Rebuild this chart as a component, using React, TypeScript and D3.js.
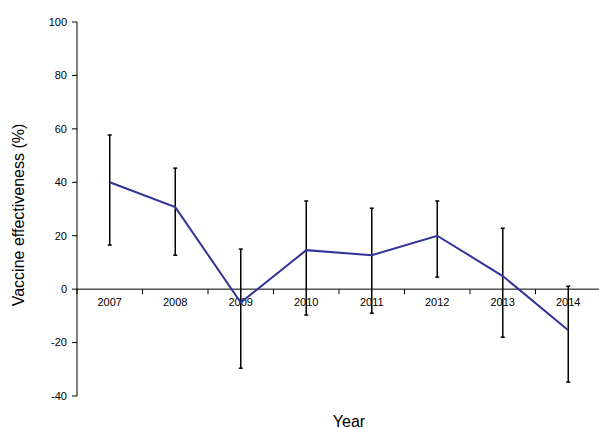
import React from 'react';
import * as d3 from 'd3';

const years = ['2007', '2008', '2009', '2010', '2011', '2012', '2013', '2014'];
const ve = [40, 30.7, -5, 14.6, 12.7, 20, 4.9, -15.4];
const upper = [57.7, 45.3, 15, 33, 30.3, 33, 22.8, 1.1];
const lower = [16.5, 12.7, -29.6, -9.7, -9, 4.5, -18, -34.8];
const yTicks = [-40, -20, 0, 20, 40, 60, 80, 100];

const W = 599;
const H = 429;
const left = 77;

const App = () => {
  const x = d3.scaleBand().domain(years).range([77, 601]);
  const y = d3.scaleLinear().domain([-40, 100]).range([396, 22]);
  const cx = (i: number) => (x(years[i]) as number) + x.bandwidth() / 2;
  const line = d3
    .line<number>()
    .x((_, i) => cx(i))
    .y((d) => y(d));
  const font = 'Arial, Liberation Sans, sans-serif';
  return (
    <svg
      width={W}
      height={H}
      style={{ position: 'absolute', left: 0, top: 0, background: '#fff' }}
      fontFamily={font}
    >
      <line x1={left} x2={left} y1={y(100)} y2={y(-40)} stroke="#000" />
      {yTicks.map((t) => (
        <g key={t}>
          <line x1={left - 5} x2={left} y1={y(t)} y2={y(t)} stroke="#000" />
          <text x={left - 10} y={y(t)} dy="0.35em" textAnchor="end" fontSize={11}>
            {t}
          </text>
        </g>
      ))}
      <line x1={left} x2={601} y1={y(0)} y2={y(0)} stroke="#000" />
      {years.map((yr, i) => (
        <g key={yr}>
          <line x1={x(yr)} x2={x(yr)} y1={y(0)} y2={y(0) + 5} stroke="#000" />
          <text x={cx(i)} y={y(0) + 17} textAnchor="middle" fontSize={11}>
            {yr}
          </text>
        </g>
      ))}
      {years.map((yr, i) => (
        <g key={'e' + yr} stroke="#000" strokeWidth={1.5}>
          <line x1={cx(i)} x2={cx(i)} y1={y(upper[i])} y2={y(lower[i])} />
          <line x1={cx(i) - 2} x2={cx(i) + 2} y1={y(upper[i])} y2={y(upper[i])} />
          <line x1={cx(i) - 2} x2={cx(i) + 2} y1={y(lower[i])} y2={y(lower[i])} />
        </g>
      ))}
      <path d={line(ve) ?? ''} fill="none" stroke="#333399" strokeWidth={2} />
      <text x={349} y={427} textAnchor="middle" fontSize={16}>
        Year
      </text>
      <text transform="translate(24,215) rotate(-90)" textAnchor="middle" fontSize={16}>
        Vaccine effectiveness (%)
      </text>
    </svg>
  );
};

export default App;
